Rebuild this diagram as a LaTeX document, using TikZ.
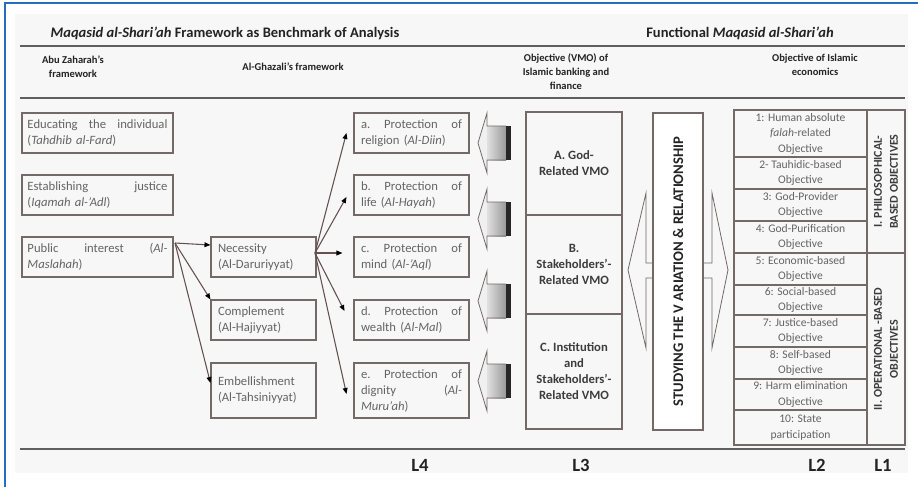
\documentclass[tikz,border=0pt]{standalone}
\usepackage{fontspec}
\setmainfont{Carlito}
\usetikzlibrary{arrows.meta}
\definecolor{frameblue}{RGB}{35,110,195}
\definecolor{boxline}{RGB}{115,105,105}
\definecolor{connc}{RGB}{100,80,80}
\definecolor{txtc}{RGB}{100,100,100}
\definecolor{hdrc}{RGB}{35,35,35}
\definecolor{vmoc}{RGB}{60,60,60}
\definecolor{rulec}{RGB}{95,95,95}
\begin{document}
\begin{tikzpicture}[x=0.75pt,y=-0.75pt,
  boxA/.style={draw=boxline,line width=0.8pt,text=txtc,font=\fontsize{9.5}{12}\selectfont,align=left,inner ysep=0pt,inner xsep=4.125pt,text width=105pt,minimum height=30pt},
  boxB/.style={draw=boxline,line width=0.8pt,text=txtc,font=\fontsize{9.5}{12}\selectfont,align=left,inner ysep=0pt,inner xsep=5.25pt,text width=68.25pt,minimum height=30pt},
  boxC/.style={draw=boxline,line width=0.8pt,text=txtc,font=\fontsize{9.5}{12}\selectfont,align=left,inner ysep=0pt,inner xsep=5.25pt,text width=75.75pt,minimum height=30pt},
  hdr/.style={text=hdrc,font=\bfseries\fontsize{7.9}{10.5}\selectfont,align=center},
  ttl/.style={text=hdrc,font=\bfseries\fontsize{10.9}{13}\selectfont},
  vmo/.style={draw=boxline,line width=0.8pt,text=vmoc,font=\bfseries\fontsize{9.5}{12}\selectfont,align=center,minimum width=72pt,inner sep=0pt},
  row/.style={draw=boxline,line width=0.8pt,text=txtc,font=\fontsize{8.7}{11.6}\selectfont,align=center,minimum width=99.75pt,inner sep=0pt},
  lone/.style={draw=boxline,line width=0.8pt,text=vmoc,font=\bfseries\fontsize{9}{12}\selectfont,align=center,rotate=90,minimum height=28.5pt,inner sep=0pt},
  lvl/.style={text=hdrc,font=\bfseries\fontsize{14}{16}\selectfont},
  conn/.style={draw=connc,line width=0.8pt,-{Triangle[length=4.5pt,width=3.6pt,color=black]}},
  rulel/.style={draw=rulec,line width=1.1pt},
  thinl/.style={draw=boxline,line width=0.6pt}
]
\useasboundingbox (0,0) rectangle (918,487);
% background and frame
\fill[black!3] (15,14) rectangle (908,473);
\draw[frameblue,line width=1.5pt] (5,487) -- (5,3) -- (918,3);

% titles
\node[ttl] (t1) at (225,33) {\textit{Maqasid al-Shari'ah} Framework as Benchmark of Analysis};
\node[ttl] (t2) at (740,33) {Functional \textit{Maqasid al-Shari'ah}};
\draw[rulel] (20,46) -- (905,46);
\node[hdr] (h1) at (73,67) {Abu Zaharah's\\framework};
\node[hdr] (h2) at (293,67) {Al-Ghazali's framework};
\node[hdr] (h3) at (566,72) {Objective (VMO) of\\Islamic banking and\\finance};
\node[hdr] (h4) at (815,65) {Objective of Islamic\\economics};
\draw[rulel] (20,98) -- (905,98);
\draw[rulel] (20,449) -- (905,449);

% Abu Zaharah column
\node[boxA] (edu) at (97.5,133) {Educating\hfill the\hfill individual\\(\textit{Tahdhib al-Fard})};
\node[boxA] (est) at (97.5,195) {Establishing\hfill justice\\(\textit{Iqamah al-'Adl})};
\node[boxA] (pub) at (97.5,257) {Public\hfill interest\hfill (\textit{Al-}\\\textit{Maslahah})};

% Al-Ghazali level
\node[boxB] (nec) at (263.5,257) {Necessity\\(Al-Daruriyyat)};
\node[boxB] (comp) at (263.5,320) {Complement\\(Al-Hajiyyat)};
\node[boxB,minimum height=41.25pt] (emb) at (263.5,390.5) {Embellishment\\(Al-Tahsiniyyat)};

% protections
\node[boxC] (pa) at (411.5,133) {a.\hfill Protection\hfill of\\religion (\textit{Al-Diin})};
\node[boxC] (pb) at (411.5,195) {b.\hfill Protection\hfill of\\life (\textit{Al-Hayah})};
\node[boxC] (pc) at (411.5,257) {c.\hfill Protection\hfill of\\mind (\textit{Al-'Aql})};
\node[boxC] (pd) at (411.5,320) {d.\hfill Protection\hfill of\\wealth (\textit{Al-Mal})};
\node[boxC,minimum height=41.25pt] (pe) at (411.5,390.5) {e.\hfill Protection\hfill of\\dignity\hfill (\textit{Al-}\\\textit{Muru'ah})};

% connectors
\coordinate (pubO) at (175,243);
\coordinate (necO) at (315,253);
\draw[conn] (pubO) -- ([yshift=9pt]nec.west);
\draw[conn] (pubO) -- (comp.north west);
\draw[conn] (pubO) -- ([yshift=5.6pt]emb.west);
\draw[conn] (necO) -- ([xshift=-5.25pt]pa.west);
\draw[conn] (necO) -- ([xshift=-5.25pt,yshift=-1.5pt]pb.west);
\draw[conn] (necO) -- ([xshift=-8.25pt]pc.west |- necO);
\draw[conn] (necO) -- ([xshift=-6.75pt,yshift=6.75pt]pd.west);
\draw[conn] (necO) -- ([xshift=-5.25pt,yshift=-2.6pt]pe.west);

% block arrows
\foreach \cy in {143,219,301,381}{
  \fill[black!6] (478,\cy) -- (487,\cy-30) -- (487,\cy+30) -- cycle;
  \shade[left color=black!12,right color=black!40] (487,\cy-17) rectangle (506,\cy+17);
  \fill[black!85] (506,\cy-17) rectangle (511,\cy+17);
  \draw[thinl] (506,\cy-17) -- (487,\cy-17) -- (487,\cy-30) -- (478,\cy) -- (487,\cy+30) -- (487,\cy+17) -- (506,\cy+17);
}

% VMO column
\node[vmo,minimum height=77.25pt] (vA) at (574,163.5) {A. God-\\Related VMO};
\node[vmo,minimum height=74.25pt] (vB) at (574,264.5) {B.\\Stakeholders'-\\Related VMO};
\node[vmo,minimum height=86.25pt] (vC) at (574,371.5) {C. Institution\\and\\Stakeholders'-\\Related VMO};

% double arrow and studying box
\draw[thinl] (653,263) -- (646,263) -- (646,193) -- (628,270) -- (646,348) -- (646,278) -- (653,278);
\draw[thinl] (703,263) -- (712,263) -- (712,193) -- (728,270) -- (712,348) -- (712,278) -- (703,278);
\node[draw=boxline,line width=0.8pt,fill=white,rotate=90,minimum width=237.75pt,minimum height=37.5pt,inner sep=0pt,text=hdrc,font=\bfseries\fontsize{11}{13}\selectfont] (stud) at (678,271.5) {STUDYING THE V ARIATION \& RELATIONSHIP};

% Islamic economics objectives
\node[row,minimum height=35.25pt] (r1) at (800.5,133.5) {1: Human absolute\\\textit{falah}-related\\Objective};
\node[row,minimum height=24pt] (r2) at (800.5,173) {2- Tauhidic-based\\Objective};
\node[row,minimum height=24pt] (r3) at (800.5,205) {3: God-Provider\\Objective};
\node[row,minimum height=24pt] (r4) at (800.5,237) {4: God-Purification\\Objective};
\node[row,minimum height=24pt] (r5) at (800.5,269) {5: Economic-based\\Objective};
\node[row,minimum height=22.5pt] (r6) at (800.5,300) {6: Social-based\\Objective};
\node[row,minimum height=24pt] (r7) at (800.5,331) {7: Justice-based\\Objective};
\node[row,minimum height=24pt] (r8) at (800.5,363) {8: Self-based\\Objective};
\node[row,minimum height=23.25pt] (r9) at (800.5,394.5) {9: Harm elimination\\Objective};
\node[row,minimum height=26.25pt] (r10) at (800.5,427.5) {10: State\\participation};

\node[lone,minimum width=107.25pt] (l1a) at (886,181.5) {I. PHILOSOPHICAL-\\BASED OBJECTIVES};
\node[lone,minimum width=144pt] (l1b) at (886,349) {II. OPERATIONAL -BASED\\OBJECTIVES};

% level labels
\node[lvl] (L4) at (420,465) {L4};
\node[lvl] (L3) at (581,465) {L3};
\node[lvl] (L2) at (817,465) {L2};
\node[lvl] (L1) at (883,465) {L1};
\end{tikzpicture}
\end{document}
